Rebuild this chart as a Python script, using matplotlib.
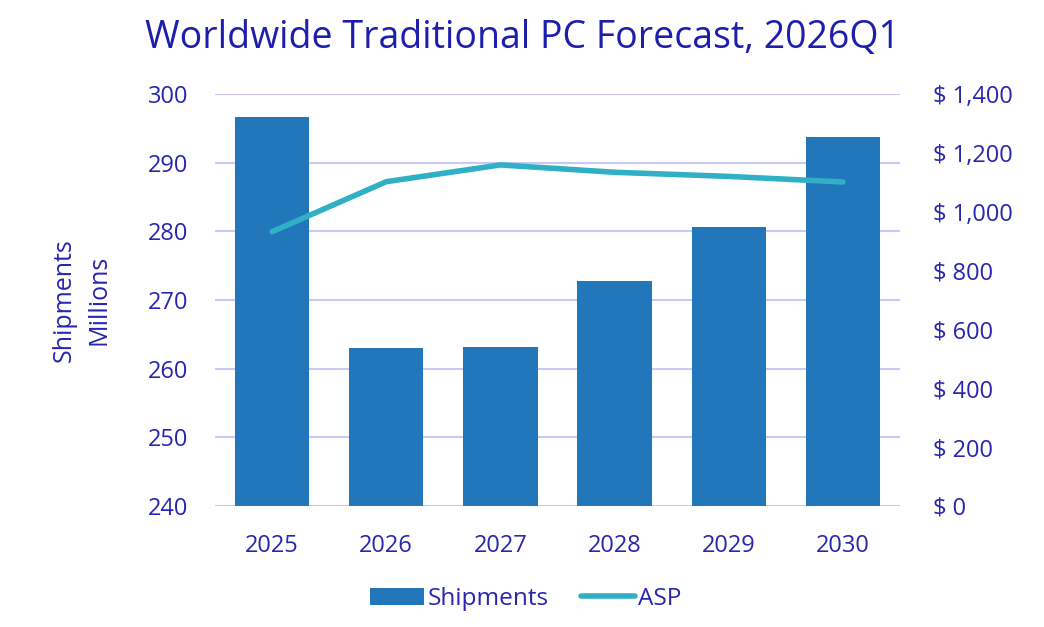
import numpy as np
import matplotlib
matplotlib.use("Agg")
from matplotlib import pyplot as plt
from matplotlib.ticker import FuncFormatter

# data
years = ['2025', '2026', '2027', '2028', '2029', '2030']
shipments = [296.7, 263.0, 263.2, 272.8, 280.7, 293.7]   # millions
asp = [932, 1102, 1159, 1134, 1120, 1101]                # USD

txt = '#2626b0'
bar_c = '#2277bb'
line_c = '#2fb0c4'
grid_c = '#c9c9f5'

plt.rcParams['font.family'] = ['Open Sans', 'DejaVu Sans']

fig = plt.figure(figsize=(10.44, 6.27), dpi=100)
ax = fig.add_axes([215/1044, 1 - 506/627, 685/1044, 412/627])
ax2 = ax.twinx()

x = np.arange(len(years))
bars = ax.bar(x, shipments, width=0.65, color=bar_c, zorder=2, label='Shipments')
ax.set_ylim(240, 300)
ax.set_yticks(np.arange(240, 301, 10))
ax.set_xlim(-0.5, len(years) - 0.5)
ax.set_xticks(x)
ax.set_xticklabels(years)
ax.grid(axis='y', color=grid_c, lw=1.5, zorder=0)
ax.set_axisbelow(True)

ln, = ax2.plot(x, asp, color=line_c, lw=4, solid_capstyle='round', label='ASP', zorder=3)
ax2.set_ylim(0, 1400)
ax2.set_yticks(np.arange(0, 1401, 200))
ax2.yaxis.set_major_formatter(FuncFormatter(lambda v, p: '$ {:,.0f}'.format(v)))

for a in (ax, ax2):
    for s in a.spines.values():
        s.set_visible(False)
    a.tick_params(length=0, colors=txt, labelsize=17)
ax.tick_params(axis='y', pad=19)
ax.tick_params(axis='x', pad=20)
ax2.tick_params(axis='y', pad=24)

ax.set_ylabel('Shipments\nMillions', color=txt, fontsize=18, linespacing=1.55)
ax.yaxis.set_label_coords(-103/685, 0.5)

fig.suptitle('Worldwide Traditional PC Forecast, 2026Q1', color='#1e1eae', fontsize=27,
             x=0.5, y=1 - 38/627, va='center')

fig.legend(handles=[bars, ln], labels=['Shipments', 'ASP'], loc='center',
           bbox_to_anchor=(0.5 + 4/1044, 1 - 599/627), ncol=2, frameon=False,
           fontsize=17.6, labelcolor=txt, handlelength=2.2, handletextpad=0.15,
           columnspacing=1.3)

fig.savefig('out.png', dpi=100, facecolor='white')
